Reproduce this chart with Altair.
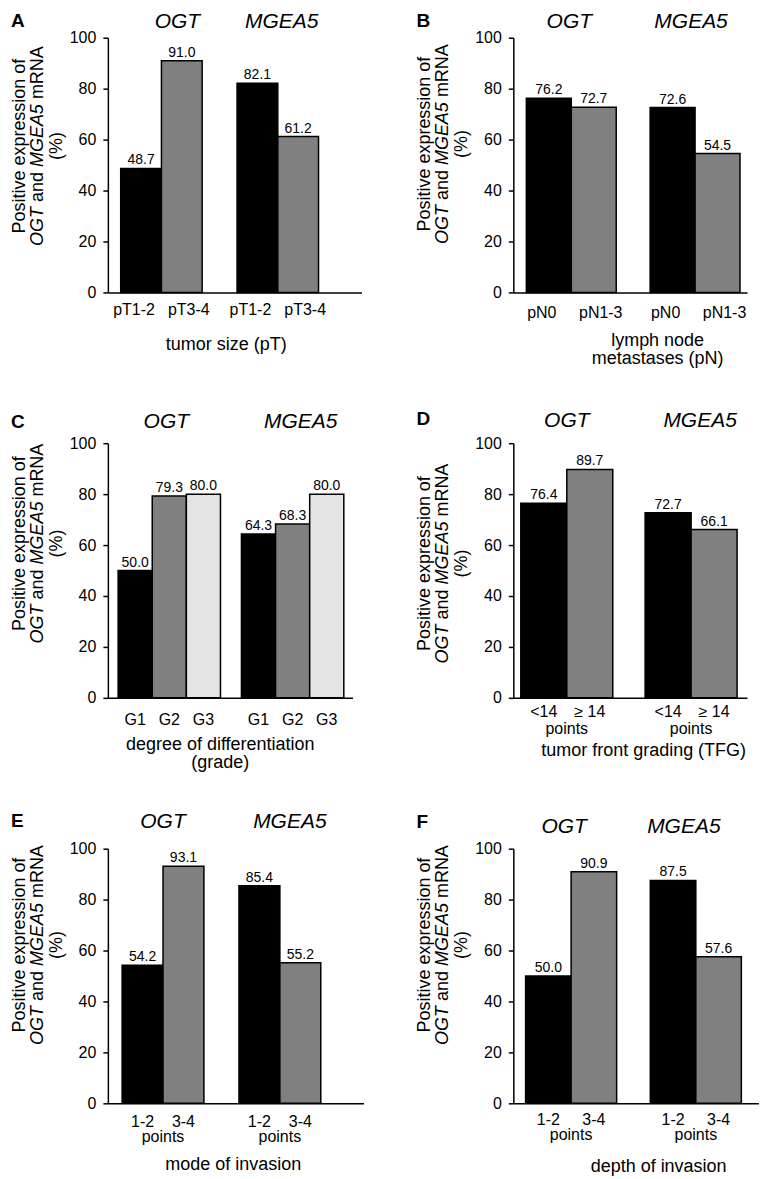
import altair as alt
import pandas as pd

FONT = "Liberation Sans"
GENES = ["OGT", "MGEA5"]

# ---- data ----
A_CATS = ["pT1-2", "pT3-4"]
A_OGT = [48.7, 91.0]
A_MGEA5 = [82.1, 61.2]

B_CATS = ["pN0", "pN1-3"]
B_OGT = [76.2, 72.7]
B_MGEA5 = [72.6, 54.5]

C_CATS = ["G1", "G2", "G3"]
C_OGT = [50.0, 79.3, 80.0]
C_MGEA5 = [64.3, 68.3, 80.0]

D_CATS = ["<14", "\u2265 14"]
D_OGT = [76.4, 89.7]
D_MGEA5 = [72.7, 66.1]

E_CATS = ["1-2", "3-4"]
E_OGT = [54.2, 93.1]
E_MGEA5 = [85.4, 55.2]

F_CATS = ["1-2", "3-4"]
F_OGT = [50.0, 90.9]
F_MGEA5 = [87.5, 57.6]

Y_TICKS = [0, 20, 40, 60, 80, 100]
COL2 = ["#000000", "#808080"]
COL3 = ["#000000", "#808080", "#e4e4e4"]

H = 255

# Arial / Liberation Sans advance widths (per 1000 em)
ADV = {"O": 778, "G": 778, "T": 611, "a": 556, "n": 556, "d": 556, "M": 833,
       "E": 667, "A": 667, "5": 556, "m": 833, "R": 722, "N": 722, " ": 278}


def tw(s, size):
    return sum(ADV[ch] for ch in s) * size / 1000.0


def panel(letter, cats, ogt, mgea5, colors, xtitle, sub, st):
    W = st["width"]
    rows = []
    for g, vals in (("OGT", ogt), ("MGEA5", mgea5)):
        for c, v in zip(cats, vals):
            rows.append({"gene": g, "cat": c, "value": v, "label": f"{v:.1f}"})
    df = pd.DataFrame(rows)

    xaxis = alt.Axis(labels=False, ticks=False, domainColor="black", domainWidth=1.5,
                     title=xtitle, titleFontSize=18, titleFontWeight="normal",
                     titleColor="black", titleX=st["xt_x"], titleY=st["xt_y"],
                     titleBaseline="alphabetic", titleAlign="center", titleLineHeight=18)
    x = alt.X("gene:N", axis=xaxis,
              scale=alt.Scale(domain=GENES, paddingInner=st["pi"],
                              paddingOuter=st["po"], align=st["al"]))
    xo = alt.XOffset("cat:N", scale=alt.Scale(domain=cats, paddingInner=0, paddingOuter=0))
    yaxis = alt.Axis(values=Y_TICKS, grid=False, tickSize=5, tickColor="black",
                     tickWidth=1.5, domainColor="black", domainWidth=1.5,
                     labelFontSize=16, labelColor="black", labelPadding=7)
    y = alt.Y("value:Q", title=None, axis=yaxis,
              scale=alt.Scale(domain=[0, 100], nice=False))

    bars = alt.Chart(df).mark_bar(stroke="black", strokeWidth=1.5).encode(
        x=x, xOffset=xo, y=y,
        color=alt.Color("cat:N", scale=alt.Scale(domain=cats, range=colors), legend=None))
    vals = alt.Chart(df).mark_text(baseline="alphabetic", dy=-4, fontSize=14, color="black").encode(
        x=x, xOffset=xo, y=y, text="label:N")
    layers = [bars, vals]

    # category labels under the bars
    spread = st["spread"]
    for i, c in enumerate(cats):
        dx = 0
        if len(cats) == 2:
            dx = -spread if i == 0 else spread
        layers.append(alt.Chart(df).transform_filter(alt.datum.cat == c).mark_text(
            baseline="alphabetic", fontSize=16, color="black", dx=dx).encode(
            x=x, xOffset=xo, y=alt.value(H + st["cat_y"]), text="cat:N"))

    # gene headers
    for g, hdx in zip(GENES, st["hdx"]):
        gdf = pd.DataFrame({"gene": [g]})
        layers.append(alt.Chart(gdf).mark_text(baseline="alphabetic", fontSize=21,
                                               fontStyle="italic", color="black", dx=hdx).encode(
            x=x, y=alt.value(-st["head"]), text="gene:N"))
    if sub:
        sdf = pd.DataFrame({"gene": GENES, "sub": [sub, sub]})
        layers.append(alt.Chart(sdf).mark_text(baseline="alphabetic", fontSize=16,
                                               color="black").encode(
            x=x, y=alt.value(H + st["sub_y"]), text="sub:N"))

    one = pd.DataFrame({"k": [0]})
    layers.append(alt.Chart(one).mark_text(align="left", baseline="alphabetic", fontSize=19,
                                           fontWeight="bold", color="black").encode(
        x=alt.value(-97), y=alt.value(st["letter"]), text=alt.value(letter)))

    # y-axis title (three rotated lines, gene names in italics)
    fs = 18
    cy = H / 2 + st["yshift"]
    layers.append(alt.Chart(one).mark_text(angle=270, align="center", baseline="middle",
                                           fontSize=fs, color="black").encode(
        x=alt.value(-88), y=alt.value(cy), text=alt.value("Positive expression of")))
    layers.append(alt.Chart(one).mark_text(angle=270, align="center", baseline="middle",
                                           fontSize=fs, color="black").encode(
        x=alt.value(-51), y=alt.value(cy), text=alt.value("(%)")))
    pieces = [("OGT", "italic"), ("and", "normal"), ("MGEA5", "italic"), ("mRNA", "normal")]
    gap = tw(" ", fs)
    total = sum(tw(p, fs) for p, _ in pieces) + gap * (len(pieces) - 1)
    pos = cy + total / 2
    for p, style in pieces:
        layers.append(alt.Chart(one).mark_text(angle=270, align="left", baseline="middle",
                                               fontSize=fs, fontStyle=style, color="black").encode(
            x=alt.value(-70), y=alt.value(pos), text=alt.value(p)))
        pos -= tw(p, fs) + gap

    return alt.layer(*layers).properties(width=W, height=H)


STY = {
    "A": dict(width=254, pi=0.30, po=0.24, al=0.23, head=10, letter=-11, yshift=-19,
              xt_x=118, xt_y=57, cat_y=23, sub_y=0, spread=7, hdx=[16, 4]),
    "B": dict(width=234, pi=0.274, po=0.081, al=0.65, head=10, letter=-11, yshift=-21,
              xt_x=144, xt_y=53, cat_y=26, sub_y=0, spread=7, hdx=[-2, -4]),
    "C": dict(width=245, pi=0.17, po=0.077, al=0.54, head=15, letter=-15, yshift=-27,
              xt_x=112, xt_y=52, cat_y=27, sub_y=0, spread=0, hdx=[-3, 8]),
    "D": dict(width=234, pi=0.26, po=0.07, al=0.43, head=16, letter=-18, yshift=-7,
              xt_x=130, xt_y=58, cat_y=19, sub_y=36, spread=0, hdx=[0, 9]),
    "E": dict(width=256, pi=0.30, po=0.244, al=0.25, head=21, letter=-22, yshift=-31,
              xt_x=125, xt_y=66, cat_y=24, sub_y=39, spread=0, hdx=[0, 10]),
    "F": dict(width=246, pi=0.27, po=0.12, al=0.41, head=16, letter=-21, yshift=-31,
              xt_x=145, xt_y=68, cat_y=22, sub_y=37, spread=0, hdx=[-7, -12]),
}

pA = panel("A", A_CATS, A_OGT, A_MGEA5, COL2, "tumor size (pT)", None, STY["A"])
pB = panel("B", B_CATS, B_OGT, B_MGEA5, COL2, ["lymph node", "metastases (pN)"], None, STY["B"])
pC = panel("C", C_CATS, C_OGT, C_MGEA5, COL3, ["degree of differentiation", "(grade)"], None, STY["C"])
pD = panel("D", D_CATS, D_OGT, D_MGEA5, COL2, "tumor front grading (TFG)", "points", STY["D"])
pE = panel("E", E_CATS, E_OGT, E_MGEA5, COL2, "mode of invasion", "points", STY["E"])
pF = panel("F", F_CATS, F_OGT, F_MGEA5, COL2, "depth of invasion", "points", STY["F"])

chart = alt.concat(pA, pB, pC, pD, pE, pF, columns=2,
                   spacing={"row": 151, "column": 150}, bounds="flush").resolve_scale(
    x="independent", xOffset="independent", color="independent", y="independent"
).properties(
    padding={"left": 3, "top": 2, "right": 0, "bottom": 0}
).configure(font=FONT).configure_view(stroke=None)

chart.save("out.html", embed_options={"renderer": "svg", "actions": False})
